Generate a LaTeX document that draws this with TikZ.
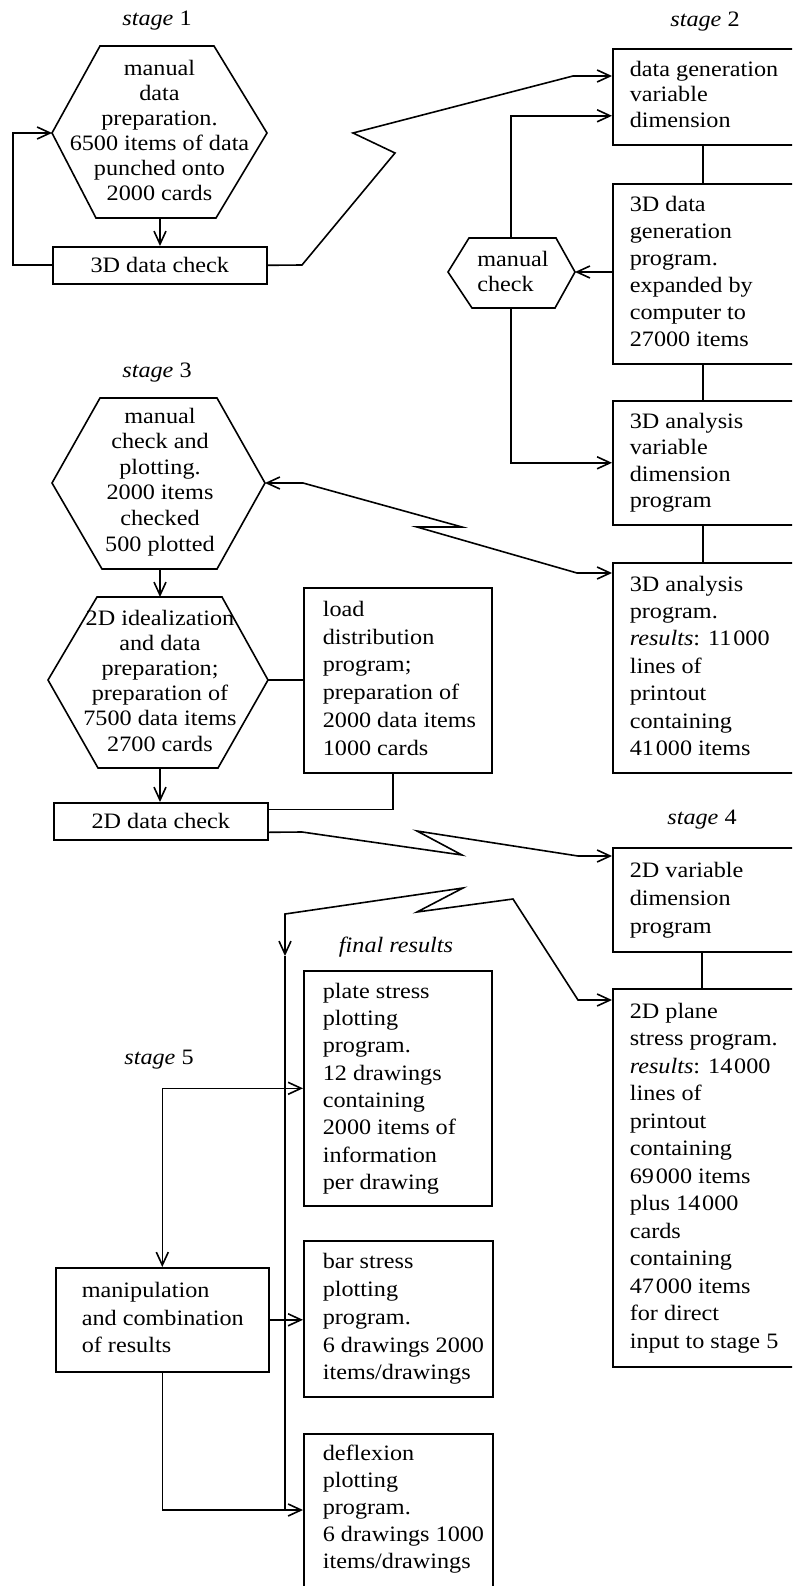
\documentclass[tikz,border=0pt]{standalone}
\usepackage{fontspec}
\setmainfont{Liberation Serif}[FakeStretch=1.1]
\usetikzlibrary{arrows.meta}
% left-aligned block of lines inside a box of fixed text width
\newcommand\lbtext[2]{\makebox[#1][l]{\begin{tabular}{@{}l@{}}#2\end{tabular}}}
% centred block of lines
\newcommand\ctext[1]{\begin{tabular}{@{}c@{}}#1\end{tabular}}
% narrow gap between thousands
\newcommand\thsep{\kern1.8pt}
\begin{document}
\begin{tikzpicture}[x=1pt,y=-1pt,line width=1.6pt,
  >={Straight Barb[length=13pt,width=12pt]},
  lbl/.style={inner sep=0pt,font=\fontsize{22}{25}\selectfont},
  frame/.style={draw,rectangle,anchor=north west,inner xsep=17pt,inner ysep=0pt,
    font=\fontsize{22}{27.4}\selectfont},
  lframe/.style={frame,inner xsep=19pt},
  hexlbl/.style={inner sep=0pt,font=\fontsize{22}{25}\selectfont},
  checkbox/.style={draw,rectangle,anchor=north west,inner sep=0pt,
    minimum width=214pt,minimum height=37pt,font=\fontsize{22}{26}\selectfont}]
\useasboundingbox (0,0) rectangle (792,1586);
\clip (0,0) rectangle (792,1586);

% ---- stage headings ----
\node[lbl] (st1) at (157,21) {\textit{stage} 1};
\node[lbl] (st2) at (705,22) {\textit{stage} 2};
\node[lbl] (st3) at (157,373) {\textit{stage} 3};
\node[lbl] (st4) at (702,820) {\textit{stage} 4};
\node[lbl] (fin) at (396,947) {\textit{final results}};
\node[lbl] (st5) at (159,1060) {\textit{stage} 5};

% ---- stage 1 ----
\coordinate (h1l) at (52,133);
\coordinate (h1r) at (267,133);
\coordinate (h1b) at (160,218);
\draw (h1l) -- (100,46) -- (214,46) -- (h1r) -- (216,218) -- (96,218) -- cycle;
\node[hexlbl] (h1) at (159.5,133)
  {\ctext{manual\\data\\preparation.\\6500 items of data\\punched onto\\2000 cards}};
\node[checkbox] (c3) at (52,246) {3D data check};
\draw[->] (h1b) -- (h1b |- c3.north);
\draw[->] (c3.west) -- ++(-39,0) |- (h1l);

% ---- stage 2 ----
\node[frame,font=\fontsize{22}{25.3}\selectfont,minimum width=218pt,minimum height=96pt]
  (s2a) at (612,48) {\lbtext{184pt}{data generation\\variable\\dimension}};
\node[frame,font=\fontsize{22}{27}\selectfont,minimum width=218pt,minimum height=180pt]
  (s2b) at (612,183) {\lbtext{184pt}{3D data\\generation\\program.\\expanded by\\computer to\\27000 items}};
\node[frame,font=\fontsize{22}{26.3}\selectfont,minimum width=218pt,minimum height=124pt]
  (s2c) at (612,400) {\lbtext{184pt}{3D analysis\\variable\\dimension\\program}};
\node[frame,minimum width=218pt,minimum height=210pt]
  (s2d) at (612,562) {\lbtext{184pt}{3D analysis\\program.\\\textit{results}: 11\thsep000\\lines of\\printout\\containing\\41\thsep000 items}};

\coordinate (cx2) at (703,0);
\draw (cx2 |- s2a.south) -- (cx2 |- s2b.north);
\draw (cx2 |- s2b.south) -- (cx2 |- s2c.north);
\draw (cx2 |- s2c.south) -- (cx2 |- s2d.north);

% manual check hexagon
\coordinate (mcl) at (448,272);
\coordinate (mcr) at (575,272);
\coordinate (mct) at (511,238);
\coordinate (mcb) at (511,308);
\draw (mcl) -- (469,238) -- (556,238) -- (mcr) -- (555,308) -- (472,308) -- cycle;
\node[lbl,align=left] (mc) at (513,271) {manual\\check};
\draw[->] (mct) |- ([yshift=-19pt]s2a.west);
\draw[->] (mcr -| s2b.west) -- (mcr);
\draw[->] (mcb) |- (s2c.west);

% link stage 1 -> stage 2
\coordinate (z1a) at (302,265);
\coordinate (z1b) at (395,153);
\coordinate (z1c) at (353,133);
\coordinate (z1d) at (573,76);
\draw[->] (c3.east) -- (z1a) -- (z1b) -- (z1c) -- (z1d) -- (z1d -| s2a.west);

% ---- stage 3 ----
\coordinate (h3l) at (52,483);
\coordinate (h3r) at (265,483);
\coordinate (h3b) at (160,569);
\draw (h3l) -- (100,398) -- (217,398) -- (h3r) -- (217,569) -- (102,569) -- cycle;
\node[hexlbl,font=\fontsize{22}{25.6}\selectfont] (h3) at (160,482)
  {\ctext{manual\\check and\\plotting.\\2000 items\\checked\\500 plotted}};

\coordinate (h4l) at (48,680);
\coordinate (h4r) at (268,680);
\coordinate (h4t) at (160,597);
\coordinate (h4b) at (160,768);
\draw (h4l) -- (97,597) -- (222,597) -- (h4r) -- (218,768) -- (98,768) -- cycle;
\node[hexlbl,font=\fontsize{22}{25.2}\selectfont] (h4) at (160,683)
  {\ctext{2D idealization\\and data\\preparation;\\preparation of\\7500 data items\\2700 cards}};
\draw[->] (h3b) -- (h4t);

\node[lframe,font=\fontsize{22}{27.7}\selectfont,minimum width=188pt,minimum height=185pt]
  (load) at (303,587) {\lbtext{150pt}{load\\distribution\\program;\\preparation of\\2000 data items\\1000 cards}};
\draw (h4r) -- (h4r -| load.west);

\node[checkbox] (c2) at (53,802) {2D data check};
\draw[->] (h4b) -- (h4b |- c2.north);
\draw ([xshift=-5pt]load.south) |- ([yshift=12pt]c2.east);

% link stage 3 <-> stage 2
\coordinate (z2a) at (303,483);
\coordinate (z2b) at (462,527);
\coordinate (z2c) at (417,527);
\coordinate (z2d) at (577,573);
\draw[<->] (h3r) -- (z2a) -- (z2b) -- (z2c) -- (z2d) -- (z2d -| s2d.west);

% ---- stage 4 ----
\node[frame,font=\fontsize{22}{28}\selectfont,minimum width=218pt,minimum height=104pt]
  (s4a) at (612,847) {\lbtext{184pt}{2D variable\\dimension\\program}};
\node[frame,font=\fontsize{22}{27.5}\selectfont,minimum width=218pt,minimum height=378pt]
  (s4b) at (612,988) {\lbtext{184pt}{2D plane\\stress program.\\\textit{results}: 14\thsep000\\lines of\\printout\\containing\\69\thsep000 items\\plus 14\thsep000\\cards\\containing\\47\thsep000 items\\for direct\\input to stage 5}};
\coordinate (cx4) at (702,0);
\draw (cx4 |- s4a.south) -- (cx4 |- s4b.north);

% link stage 3 -> stage 4
\coordinate (z3a) at (302,832);
\coordinate (z3b) at (462,855);
\coordinate (z3c) at (417,831);
\coordinate (z3d) at (578,856);
\draw[->] ([yshift=-11pt]c2.east) -- (z3a) -- (z3b) -- (z3c) -- (z3d) -- (z3d -| s4a.west);

% ---- final results ----
\node[lframe,font=\fontsize{22}{27.3}\selectfont,minimum width=188pt,minimum height=235pt]
  (plate) at (303,970) {\lbtext{150pt}{plate stress\\plotting\\program.\\12 drawings\\containing\\2000 items of\\information\\per drawing}};
\node[lframe,font=\fontsize{22}{27.7}\selectfont,minimum width=189pt,minimum height=156pt]
  (bar) at (303,1240) {\lbtext{151pt}{bar stress\\plotting\\program.\\6 drawings 2000\\items/drawings}};
\node[lframe,font=\fontsize{22}{27}\selectfont,minimum width=189pt,text height=27pt,text depth=200pt]
  (defl) at (303,1433) {\makebox[151pt][l]{\begin{tabular}[t]{@{}l@{}}deflexion\\plotting\\program.\\6 drawings 1000\\items/drawings\end{tabular}}};

% ---- stage 5 ----
\node[frame,inner xsep=26pt,font=\fontsize{22}{27.5}\selectfont,minimum width=213pt,minimum height=104pt]
  (manip) at (55,1267) {\lbtext{161pt}{manipulation\\and combination\\of results}};

% link stage 4 -> final results
\coordinate (z4a) at (285,914);
\coordinate (z4b) at (463,888);
\coordinate (z4c) at (417,912);
\coordinate (z4d) at (513,899);
\coordinate (z4e) at (578,1000);
\coordinate (z4f) at (285,956);
\coordinate (dj) at (285,1510);
\draw[<->] (z4f) -- (z4a) -- (z4b) -- (z4c) -- (z4d) -- (z4e) -- (z4e -| s4b.west);
\draw (z4f) -- (dj);

\draw[<->] (manip.north) |- (plate.west);
\draw[->] (manip.east) -- (manip.east -| bar.west);
\draw[->] (manip.south) |- (dj -| defl.west);
\end{tikzpicture}
\end{document}
